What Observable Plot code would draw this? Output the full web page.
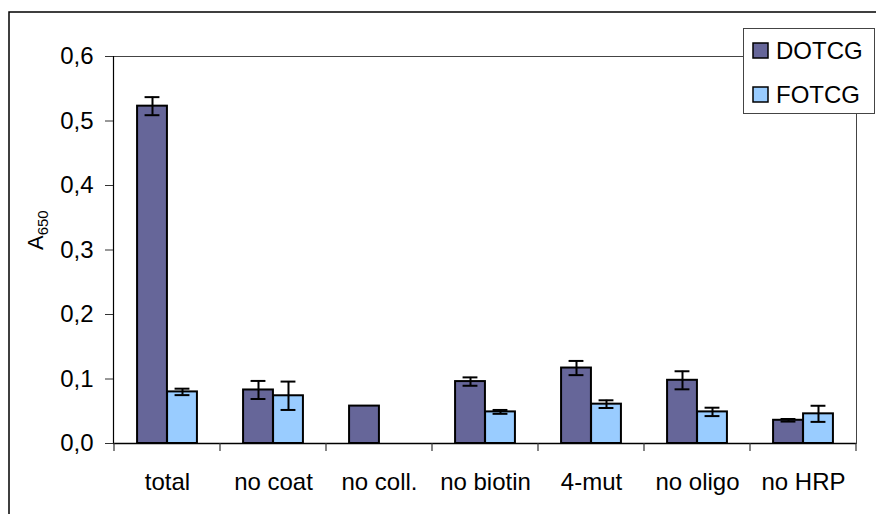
<!DOCTYPE html>
<html>
<head>
<meta charset="utf-8">
<script src="https://cdn.jsdelivr.net/npm/d3@7"></script>
<script src="https://cdn.jsdelivr.net/npm/@observablehq/plot@0.6"></script>
<style>
  html, body { margin: 0; padding: 0; background: #fff; }
  #chart { position: relative; width: 876px; height: 514px; overflow: hidden; }
  svg { font-family: "Liberation Sans", Arial, sans-serif; }
</style>
</head>
<body>
<div id="chart"></div>
<script>
const categories = ["total", "no coat", "no coll.", "no biotin", "4-mut", "no oligo", "no HRP"];
const seriesNames = ["DOTCG", "FOTCG"];
const seriesColors = ["#666699", "#99CCFF"];
const dotcgValues = [0.523, 0.083, 0.058, 0.096, 0.117, 0.098, 0.036];
const dotcgErrors = [0.014, 0.014, 0, 0.0065, 0.011, 0.014, 0.002];
const fotcgValues = [0.080, 0.074, null, 0.049, 0.061, 0.049, 0.046];
const fotcgErrors = [0.005, 0.022, null, 0.003, 0.006, 0.0065, 0.0125];
const yTicks = [0, 0.1, 0.2, 0.3, 0.4, 0.5, 0.6];
const yLabelMain = "A";
const yLabelSub = "650";

const rows = categories.flatMap((c, i) => [
  {category: c, series: seriesNames[0], value: dotcgValues[i], err: dotcgErrors[i]},
  {category: c, series: seriesNames[1], value: fotcgValues[i], err: fotcgErrors[i]}
]).filter(d => d.value != null);
const dRows = rows.filter(d => d.series === seriesNames[0]);
const fRows = rows.filter(d => d.series === seriesNames[1]);
const dErr = dRows.filter(d => d.err > 0);
const fErr = fRows.filter(d => d.err > 0);

const W = 876, H = 514;
const mL = 113, mR = 20, mT = 56, mB = 71;
const band = (W - mL - mR) / categories.length;
const barW = 30;
const capW = 15;
const outerInset = band / 2 - barW;

const plot = Plot.plot({
  width: W, height: H,
  marginLeft: mL, marginRight: mR, marginTop: mT, marginBottom: mB,
  style: {fontFamily: "Liberation Sans, Arial, sans-serif", color: "black", background: "white"},
  x: {domain: categories, padding: 0},
  y: {domain: [0, 0.6]},
  marks: [
    Plot.frame({stroke: "#444", strokeWidth: 1}),
    Plot.barY(dRows, {x: "category", y: "value", fill: seriesColors[0], stroke: "black", strokeWidth: 2,
      insetLeft: outerInset, insetRight: band / 2}),
    Plot.barY(fRows, {x: "category", y: "value", fill: seriesColors[1], stroke: "black", strokeWidth: 2,
      insetLeft: band / 2, insetRight: outerInset}),
    Plot.ruleX(dErr, {x: "category", y1: d => d.value - d.err, y2: d => d.value + d.err, dx: -barW / 2, stroke: "black", strokeWidth: 2}),
    Plot.tickY(dErr, {x: "category", y: d => d.value + d.err, stroke: "black", strokeWidth: 2,
      insetLeft: band / 2 - barW / 2 - capW / 2, insetRight: band / 2 + barW / 2 - capW / 2}),
    Plot.tickY(dErr, {x: "category", y: d => d.value - d.err, stroke: "black", strokeWidth: 2,
      insetLeft: band / 2 - barW / 2 - capW / 2, insetRight: band / 2 + barW / 2 - capW / 2}),
    Plot.ruleX(fErr, {x: "category", y1: d => d.value - d.err, y2: d => d.value + d.err, dx: barW / 2, stroke: "black", strokeWidth: 2}),
    Plot.tickY(fErr, {x: "category", y: d => d.value + d.err, stroke: "black", strokeWidth: 2,
      insetLeft: band / 2 + barW / 2 - capW / 2, insetRight: band / 2 - barW / 2 - capW / 2}),
    Plot.tickY(fErr, {x: "category", y: d => d.value - d.err, stroke: "black", strokeWidth: 2,
      insetLeft: band / 2 + barW / 2 - capW / 2, insetRight: band / 2 - barW / 2 - capW / 2}),
    Plot.ruleY([0], {stroke: "black", strokeWidth: 1.5}),
    Plot.frame({anchor: "left", stroke: "black", strokeWidth: 1.2}),
    Plot.axisY({ticks: yTicks, tickFormat: d => d.toFixed(1).replace(".", ","), tickSize: 8, tickPadding: 12,
      fontSize: 24, label: null, stroke: "#333"}),
    Plot.axisX({tickSize: 0, tickPadding: 29, fontSize: 24, label: null})
  ]
});

document.getElementById("chart").appendChild(plot);
const svg = d3.select(plot);
const xs = plot.scale("x");
const ys = plot.scale("y");
const y0 = ys.apply(0);

// boundary ticks on the category axis
const bounds = categories.map(c => xs.apply(c)).concat([xs.apply(categories[categories.length - 1]) + xs.bandwidth]);
svg.append("g").selectAll("line").data(bounds).join("line")
  .attr("x1", d => d).attr("x2", d => d)
  .attr("y1", y0).attr("y2", y0 + 8)
  .attr("stroke", "#333").attr("stroke-width", 1.2);

// outer chart border
svg.append("rect").attr("x", 9).attr("y", 12).attr("width", 900).attr("height", 600)
  .attr("fill", "none").attr("stroke", "black").attr("stroke-width", 1.5);

// y axis label with subscript
const yl = svg.append("text")
  .attr("transform", `translate(43, ${ys.apply(0.33)}) rotate(-90)`)
  .attr("text-anchor", "middle")
  .attr("font-size", 22)
  .attr("fill", "black");
yl.append("tspan").text(yLabelMain);
yl.append("tspan").attr("font-size", 15).attr("dy", 5).text(yLabelSub);

// legend
const lg = svg.append("g").attr("text-anchor", "start");
lg.append("rect").attr("x", 743.5).attr("y", 28.5).attr("width", 131).attr("height", 85)
  .attr("fill", "white").attr("stroke", "#444").attr("stroke-width", 1);
seriesNames.forEach((s, i) => {
  const cy = 51 + i * 44;
  lg.append("rect").attr("x", 753).attr("y", cy - 8).attr("width", 15).attr("height", 15)
    .attr("fill", seriesColors[i]).attr("stroke", "black").attr("stroke-width", 1.5);
  lg.append("text").attr("x", 776).attr("y", cy).attr("dy", "0.35em").attr("text-anchor", "start")
    .attr("font-size", 24).attr("fill", "black").text(s);
});
</script>
</body>
</html>
